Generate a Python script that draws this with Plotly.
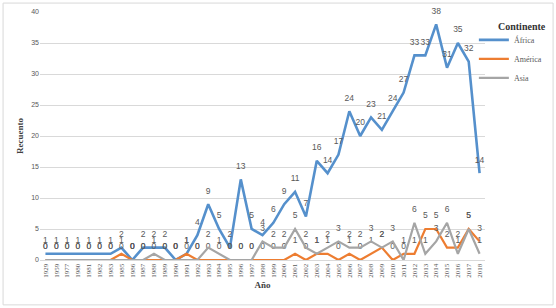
import plotly.graph_objects as go

years = ["1929", "1959", "1977", "1980", "1981", "1982", "1983", "1985", "1986", "1987",
         "1988", "1989", "1990", "1991", "1992", "1993", "1994", "1995", "1996", "1997",
         "1998", "1999", "2000", "2001", "2002", "2003", "2004", "2005", "2006", "2007",
         "2008", "2009", "2010", "2011", "2012", "2013", "2014", "2015", "2016", "2017", "2018"]

africa = [1, 1, 1, 1, 1, 1, 1, 2, 0, 2,
          2, 2, 0, 1, 4, 9, 5, 2, 13, 5,
          4, 6, 9, 11, 7, 16, 14, 17, 24, 20,
          23, 21, 24, 27, 33, 33, 38, 31, 35, 32, 14]

america = [0, 0, 0, 0, 0, 0, 0, 1, 0, 0,
           0, 0, 0, 1, 0, 0, 0, 0, 0, 0,
           0, 0, 0, 1, 0, 1, 1, 0, 1, 0,
           1, 2, 0, 1, 1, 5, 5, 2, 2, 5, 3]

asia = [0, 0, 0, 0, 0, 0, 0, 0, 0, 0,
        1, 0, 0, 0, 0, 2, 1, 0, 0, 0,
        3, 2, 2, 5, 2, 1, 2, 3, 2, 2,
        3, 2, 3, 0, 6, 1, 3, 6, 1, 5, 1]

series = [("África", africa, "#5590CC", 2.6),
          ("América", america, "#ED7D31", 2.2),
          ("Asia", asia, "#A5A5A5", 2.2)]

fig = go.Figure()
for name, vals, color, w in series:
    fig.add_trace(go.Scatter(
        x=years, y=vals, name=name, mode="lines+markers+text",
        line=dict(color=color, width=w),
        marker=dict(size=12, color="rgba(0,0,0,0)"),
        text=[str(v) for v in vals], textposition="top center",
        textfont=dict(family="Liberation Sans", size=8.5, color="#595959"),
        cliponaxis=False,
    ))

fig.update_layout(
    width=556, height=308,
    margin=dict(l=40, r=71, t=12, b=48, autoexpand=False),
    paper_bgcolor="white", plot_bgcolor="white",
    showlegend=True,
    legend=dict(
        font=dict(family="Liberation Serif", size=8, color="#595959"),
        x=0.975, xanchor="left", y=0.946, yanchor="top",
        tracegroupgap=0, itemwidth=30, bgcolor="rgba(0,0,0,0)",
    ),
    annotations=[dict(text="<b>Continente</b>", xref="paper", yref="paper",
                      x=1.025, y=0.94, xanchor="left", yanchor="middle", showarrow=False,
                      font=dict(family="Liberation Serif", size=10, color="#333333"))],
    xaxis=dict(
        type="category", range=[-0.5, 40.5],
        tickangle=-90, tickfont=dict(family="Liberation Serif", size=7, color="#595959"),
        showgrid=False, showline=True, linecolor="#D9D9D9", linewidth=1, ticks="",
        title=dict(text="<b>Año</b>", font=dict(family="Liberation Serif", size=9, color="#404040"), standoff=4),
    ),
    yaxis=dict(
        range=[0, 40], dtick=5,
        tickfont=dict(family="Liberation Sans", size=7, color="#595959"),
        showgrid=True, gridcolor="#D9D9D9", gridwidth=1, zeroline=False,
        showline=False, ticks="",
        title=dict(text="<b>Recuento</b>", font=dict(family="Liberation Serif", size=9, color="#404040"), standoff=6),
    ),
    shapes=[dict(type="rect", xref="paper", yref="paper", x0=-0.083, x1=1.153, y0=-0.181, y1=1.036,
                 line=dict(color="#D9D9D9", width=1))],
)

fig.write_html("out.html", config={"displayModeBar": False},
               post_script="document.body.style.margin='0';")
